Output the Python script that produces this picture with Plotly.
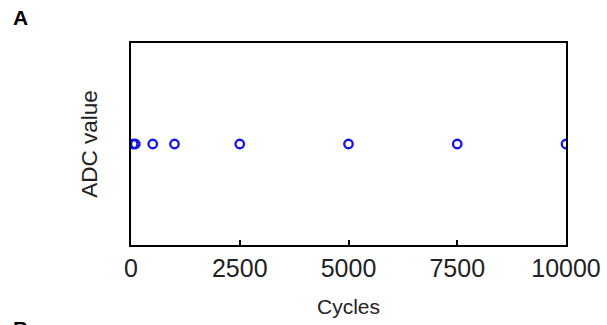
import plotly.graph_objects as go

cycles = [50, 100, 500, 1000, 2500, 5000, 7500, 10000]
adc_values = [1, 1, 1, 1, 1, 1, 1, 1]
x_ticks = [0, 2500, 5000, 7500, 10000]
x_tick_labels = ["0", "2500", "5000", "7500", "10000"]

font_family = "Liberation Sans, Arial, Helvetica, sans-serif"

fig = go.Figure()
fig.add_trace(go.Scatter(
    x=cycles, y=adc_values, mode="markers",
    marker=dict(symbol="circle-open", size=8.5, color="#1414e6", line=dict(width=2.3, color="#1414e6")),
    cliponaxis=True, showlegend=False,
))

fig.update_layout(
    width=607, height=325,
    margin=dict(l=131, r=41, t=43, b=80, autoexpand=False),
    paper_bgcolor="white", plot_bgcolor="white",
    font=dict(family=font_family, color="black"),
    xaxis=dict(
        range=[0, 10000], tickvals=x_ticks, ticktext=x_tick_labels, automargin=False,
        showgrid=False, zeroline=False, showline=True, linecolor="black", linewidth=2,
        mirror=True, ticks="inside", ticklen=5, tickwidth=2, tickcolor="black",
        tickfont=dict(size=25, family=font_family, color="#222"),
        title=dict(text="Cycles", font=dict(size=21, family=font_family, color="#222"), standoff=18),
    ),
    yaxis=dict(
        range=[0, 2], showticklabels=False, ticks="", automargin=False,
        showgrid=False, zeroline=False, showline=True, linecolor="black", linewidth=2,
        mirror=True,
        title=dict(text="ADC value", font=dict(size=22.5, family=font_family, color="#222"), standoff=25),
    ),
)

plot_w = 607 - 131 - 41
plot_h = 325 - 43 - 80
fig.add_annotation(text="<b>A</b>", xref="paper", yref="paper",
                   x=(11 - 131) / plot_w, y=(325 - 80 - 17) / plot_h,
                   showarrow=False, xanchor="left", yanchor="middle",
                   font=dict(size=21, family=font_family, color="black"))
fig.add_annotation(text="<b>B</b>", xref="paper", yref="paper",
                   x=(11 - 131) / plot_w, y=(325 - 80 - 328) / plot_h,
                   showarrow=False, xanchor="left", yanchor="middle",
                   font=dict(size=21, family=font_family, color="black"))

fig.write_html("out.html")
